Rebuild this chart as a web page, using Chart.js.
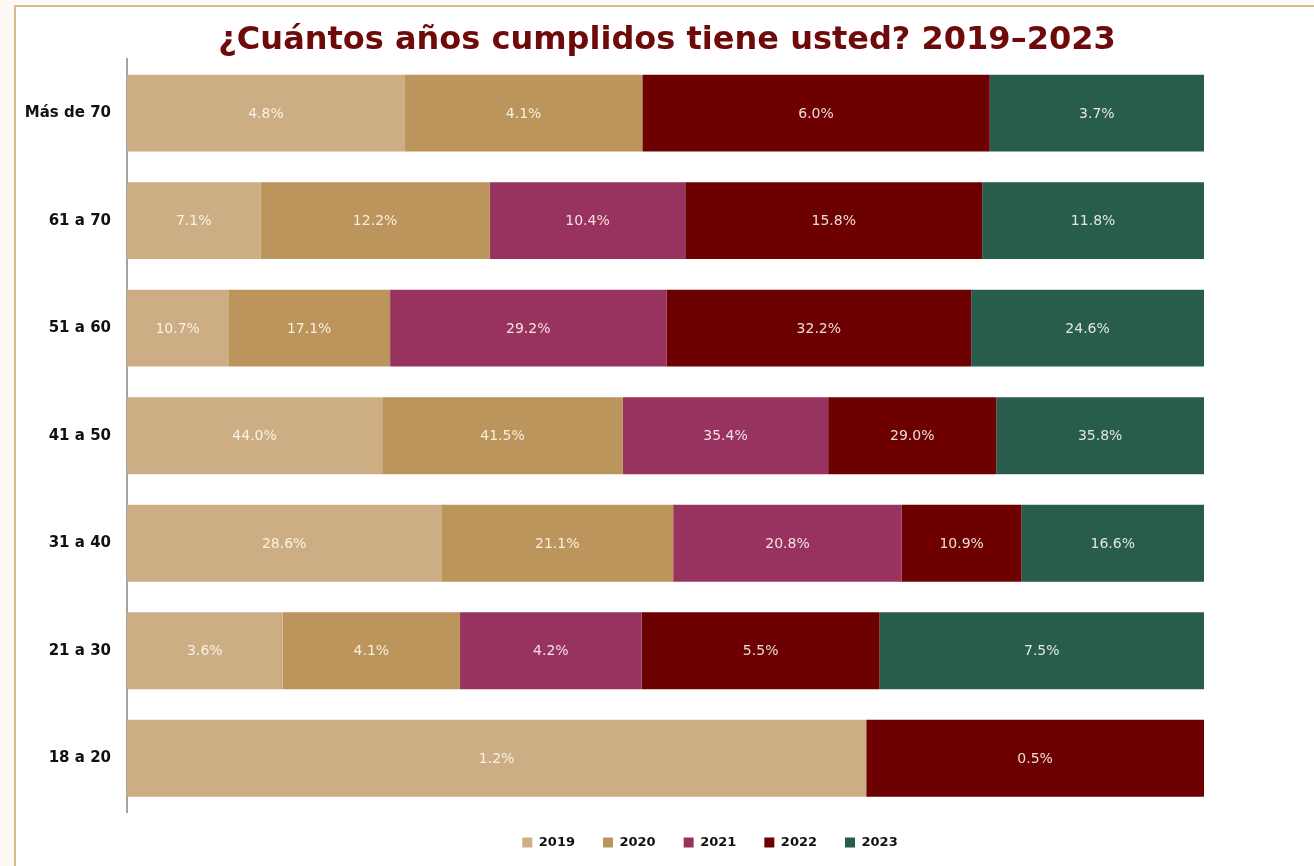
<!DOCTYPE html>
<html>
<head>
<meta charset="utf-8">
<script src="https://cdn.jsdelivr.net/npm/chart.js@4.4.1/dist/chart.umd.min.js"></script>
<style>
  html, body { margin: 0; padding: 0; width: 1314px; height: 866px; overflow: hidden; background: #fdf9f5; }
  #frame { position: absolute; left: 14px; top: 5px; width: 1320px; height: 880px; background: #fff; border: 2px solid #d8b990; box-sizing: border-box; }
  #wrap { position: absolute; left: 0; top: 0; width: 1314px; height: 866px; }
</style>
</head>
<body>
<div id="frame"></div>
<div id="wrap"><canvas id="myChart"></canvas></div>
<script>
var categories = ["Más de 70", "61 a 70", "51 a 60", "41 a 50", "31 a 40", "21 a 30", "18 a 20"];
var years = ["2019", "2020", "2021", "2022", "2023"];
var v2019 = [4.8, 7.1, 10.7, 44.0, 28.6, 3.6, 1.16];
var v2020 = [4.1, 12.2, 17.1, 41.5, 21.1, 4.1, null];
var v2021 = [null, 10.4, 29.2, 35.4, 20.8, 4.2, null];
var v2022 = [6.0, 15.8, 32.2, 29.0, 10.9, 5.5, 0.53];
var v2023 = [3.7, 11.8, 24.6, 35.8, 16.6, 7.5, null];
var colors = ["#cdae84", "#bc955c", "#98325f", "#6d0000", "#285c4d"];

var series = [v2019, v2020, v2021, v2022, v2023];

// each row is shown as 100%
var totals = categories.map(function (c, i) {
    var t = 0;
    for (var s = 0; s < series.length; s++) {
        if (series[s][i] != null) t += series[s][i];
    }
    return t;
});

var datasets = [];
for (var s = 0; s < series.length; s++) {
    datasets.push({
        label: years[s],
        backgroundColor: colors[s],
        borderWidth: 0,
        raw: series[s],
        data: series[s].map(function (v, i) {
            return v == null ? null : v / totals[i] * 100;
        }),
        barPercentage: 0.715,
        categoryPercentage: 1,
    });
}

var barLabels = {
    id: "barLabels",
    afterDatasetsDraw: function (chart) {
        var ctx = chart.ctx;
        ctx.save();
        ctx.font = "14px 'DejaVu Sans'";
        ctx.fillStyle = "rgba(255,250,240,0.88)";
        ctx.textAlign = "center";
        ctx.textBaseline = "middle";
        chart.data.datasets.forEach(function (ds, di) {
            var meta = chart.getDatasetMeta(di);
            meta.data.forEach(function (bar, i) {
                var v = ds.raw[i];
                if (v == null) return;
                ctx.fillText(v.toFixed(1) + "%", (bar.x + bar.base) / 2, bar.y + 1);
            });
        });
        ctx.restore();
    },
};

// legend height fixed, title centred on the page, legend shifted right
var boxTweak = {
    id: "boxTweak",
    afterInit: function (chart) {
        var lg = chart.legend;
        if (!lg) return;
        var fit = lg.fit;
        lg.fit = function () {
            fit.call(lg);
            lg.height = 54;
        };
    },
    afterLayout: function (chart) {
        if (chart.titleBlock) {
            chart.titleBlock.left = 20;
            chart.titleBlock.right = chart.width;
        }
        if (chart.legend) {
            chart.legend.left = 216;
            chart.legend.top -= 4;
        }
    },
};

var config = {
    type: "bar",
    data: { labels: categories, datasets: datasets },
    options: {
        indexAxis: "y",
        responsive: true,
        maintainAspectRatio: false,
        animation: false,
        layout: { padding: { top: 0, right: 110, bottom: 0, left: 0 } },
        scales: {
            x: { stacked: true, display: false, min: 0, max: 100 },
            y: {
                stacked: true,
                grid: { display: false },
                border: { display: true, color: "#a3a3a3", width: 2 },
                ticks: {
                    padding: 8,
                    color: "#111",
                    font: { family: "'DejaVu Sans'", size: 15, weight: "bold" },
                },
                afterFit: function (scale) { scale.width = 127; },
            },
        },
        plugins: {
            title: {
                display: true,
                text: "¿Cuántos años cumplidos tiene usted? 2019–2023",
                color: "#6f0a0a",
                font: { family: "'DejaVu Sans'", size: 32, weight: "bold" },
                padding: { top: 21, bottom: 0 },
            },
            legend: {
                position: "bottom",
                labels: {
                    boxWidth: 10,
                    boxHeight: 10,
                    padding: 28,
                    color: "#111",
                    font: { family: "'DejaVu Sans'", size: 13, weight: "bold" },
                },
            },
            tooltip: { enabled: false },
        },
    },
    plugins: [barLabels, boxTweak],
};

var myChart = new Chart(document.getElementById("myChart"), config);
</script>
</body>
</html>
